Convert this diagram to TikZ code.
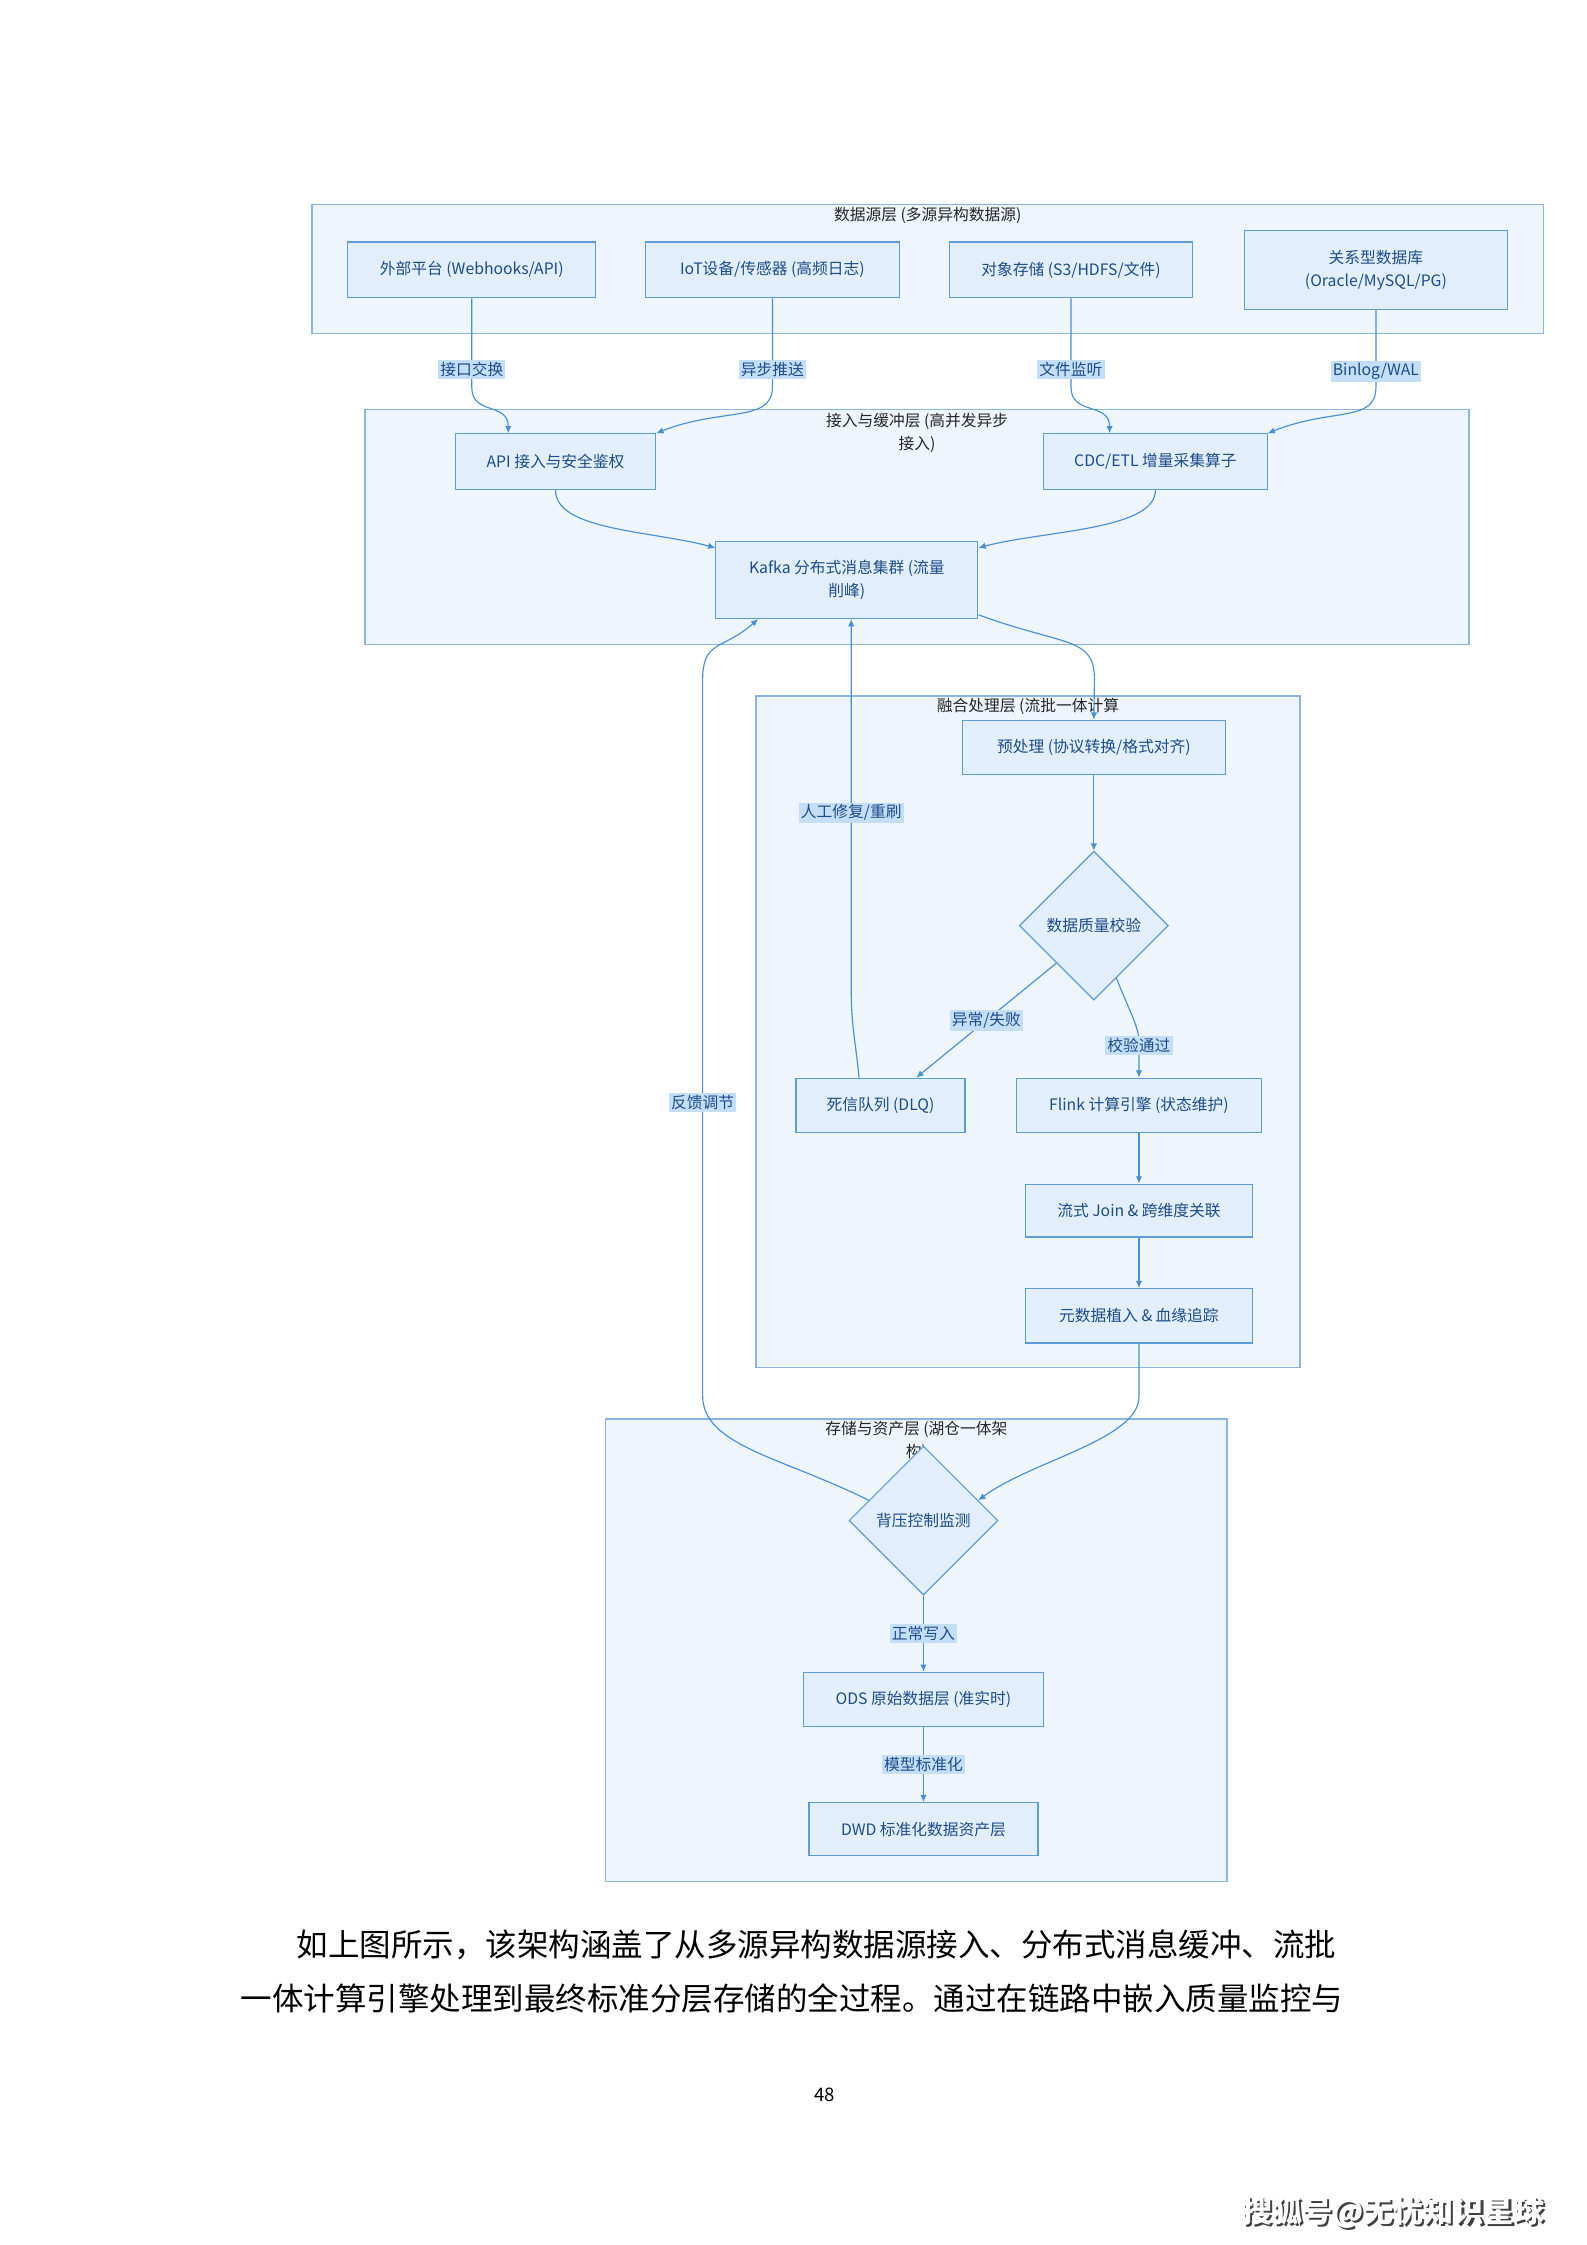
\documentclass[tikz,border=0pt]{standalone}
\usepackage{fontspec}
\setmainfont{Noto Sans CJK SC}
\usetikzlibrary{arrows.meta,positioning,shapes.geometric,calc}
\definecolor{layerline}{HTML}{8DB4E2}
\definecolor{layerfill}{HTML}{EEF5FD}
\definecolor{boxline}{HTML}{5E9BD8}
\definecolor{boxfill}{HTML}{E2EEFB}
\definecolor{boxtext}{HTML}{1E4C8A}
\definecolor{flowline}{HTML}{4A8ED8}
\definecolor{tagfill}{HTML}{C5DEF7}

\begin{document}
\begin{tikzpicture}[x=1pt, y=-1pt,
    layer/.style={draw=layerline, fill=layerfill, line width=1pt, inner sep=0pt},
    layertitle/.style={font=\fontsize{11}{16}\selectfont, text=black!85, align=center, inner sep=1pt, anchor=north},
    box/.style={draw=boxline, fill=boxfill, line width=0.8pt, text=boxtext, align=center, inner sep=2pt, font=\fontsize{11}{16}\selectfont},
    check/.style={box, diamond, minimum width=104pt, minimum height=104pt, inner sep=0pt},
    tag/.style={fill=tagfill, text=boxtext, inner sep=1.5pt, font=\fontsize{11}{13}\selectfont},
    arrow/.style={draw=flowline, line width=0.8pt, -{Latex[length=5pt, width=4.5pt]}},
    para/.style={anchor=west, inner sep=0pt, font=\fontsize{22}{26}\selectfont}
  ]
    \fill[white] (0,0) rectangle (1108,1568);
    \useasboundingbox (0,0) rectangle (1108,1568);

    % layers
    \node[layer, minimum width=860pt, minimum height=90pt] (srclayer) at (648,188) {};
    \node[layer, minimum width=771pt, minimum height=164pt] (inglayer) at (640.5,368) {};
    \node[layer, minimum width=380pt, minimum height=469pt] (fuslayer) at (718,720.5) {};
    \node[layer, minimum width=434pt, minimum height=323pt] (stolayer) at (640,1152.5) {};

    \node[layertitle] (srctitle) at ([yshift=-1pt]srclayer.north) {数据源层 (多源异构数据源)};
    \node[layertitle] (ingtitle) at ([yshift=-2pt]inglayer.north) {接入与缓冲层 (高并发异步\\接入)};
    \node[layertitle] (fustitle) at ([yshift=-1pt]fuslayer.north) {融合处理层 (流批一体计算\\)};
    \node[layertitle] (stotitle) at ([yshift=-1pt]stolayer.north) {存储与资产层 (湖仓一体架\\构)};

    % nodes
    \node[box, minimum width=173pt, minimum height=39pt] (extsrc) at (329.5,188.5) {外部平台 (Webhooks/API)};
    \node[box, minimum width=177pt, minimum height=39pt] (iotsrc) at (539.5,188.5) {IoT设备/传感器 (高频日志)};
    \node[box, minimum width=170pt, minimum height=39pt] (objsrc) at (748,188.5) {对象存储 (S3/HDFS/文件)};
    \node[box, minimum width=184pt, minimum height=55pt] (rdbsrc) at (961,188.5) {关系型数据库\\(Oracle/MySQL/PG)};
    \node[box, minimum width=140pt, minimum height=39pt] (apiin) at (388,322.5) {API 接入与安全鉴权};
    \node[box, minimum width=156pt, minimum height=39pt] (cdcin) at (807,322.5) {CDC/ETL 增量采集算子};
    \node[box, minimum width=183pt, minimum height=54pt] (kafka) at (591.5,405) {Kafka 分布式消息集群 (流量\\削峰)};
    \node[box, minimum width=184pt, minimum height=38pt] (prep) at (764,522) {预处理 (协议转换/格式对齐)};
    \node[check] (dq) at (764,646.5) {数据质量校验};
    \node[box, minimum width=118pt, minimum height=38pt] (dlq) at (615,772) {死信队列 (DLQ)};
    \node[box, minimum width=171pt, minimum height=38pt] (flink) at (795.5,772) {Flink 计算引擎 (状态维护)};
    \node[box, minimum width=159pt, minimum height=37pt] (join) at (795.5,845.5) {流式 Join \& 跨维度关联};
    \node[box, minimum width=159pt, minimum height=38pt] (meta) at (795.5,919) {元数据植入 \& 血缘追踪};
    \node[check] (bp) at (645,1062) {背压控制监测};
    \node[box, minimum width=168pt, minimum height=38pt] (ods) at (645,1187) {ODS 原始数据层 (准实时)};
    \node[box, minimum width=160pt, minimum height=37pt] (dwd) at (645,1277.5) {DWD 标准化数据资产层};

    % connectors
    \draw[arrow] (extsrc.south) -- node[tag, pos=0.8] (tagext) {接口交换} ++(0,62) .. controls +(0,20) and +(0,-22) .. ([xshift=-33pt]apiin.north);
    \draw[arrow] (iotsrc.south) -- node[tag, pos=0.8] (tagiot) {异步推送} ++(0,62) .. controls +(0,25) and +(45,-18) .. (apiin.north east);
    \draw[arrow] (objsrc.south) -- node[tag, pos=0.8] (tagobj) {文件监听} ++(0,62) .. controls +(0,20) and +(0,-22) .. ([xshift=-32pt]cdcin.north);
    \draw[arrow] (rdbsrc.south) -- node[tag, pos=0.8] (tagrdb) {Binlog/WAL} ++(0,54) .. controls +(0,25) and +(45,-18) .. (cdcin.north east);
    \draw[arrow] (apiin.south) .. controls +(0,28) and +(-45,-12) .. ([yshift=-5pt]kafka.north west);
    \draw[arrow] (cdcin.south) .. controls +(0,28) and +(45,-12) .. ([yshift=-5pt]kafka.north east);
    \draw[arrow] ([yshift=3pt]kafka.south east) .. controls +(60,22) and +(0,-30) .. ++(81,45) -- (prep.north);
    \draw[arrow] (prep.south) -- (dq.north);
    \draw[arrow] (dq.south west) -- node[tag] (tagfail) {异常/失败} ([xshift=25pt]dlq.north);
    \draw[arrow] ($(dq.east)!0.7!(dq.south)$) .. controls +(10,25) and +(0,-10) .. ([yshift=25pt]flink.north) -- node[tag, pos=0.1] (tagpass) {校验通过} (flink.north);
    \draw[arrow] ([xshift=-15pt]dlq.north) .. controls +(-3,-30) and +(0,30) .. ++(-5.5,-65) -- node[tag, pos=0.47] (tagfix) {人工修复/重刷} ([xshift=3pt]kafka.south);
    \draw[arrow] (flink.south) -- (join.north);
    \draw[arrow] (join.south) -- (meta.north);
    \draw[arrow] (meta.south) -- ++(0,37) .. controls +(0,30) and +(38,-28) .. ($(bp.north)!0.73!(bp.east)$);
    \draw[arrow] ($(bp.north)!0.73!(bp.west)$) .. controls +(-60,-30) and +(0,35) .. ++(-116,-73) -- node[tag, pos=0.41] (tagfeed) {反馈调节} ++(0,-500) .. controls +(0,-28) and +(-25,22) .. ([xshift=-62pt]kafka.south);
    \draw[arrow] (bp.south) -- node[tag] (tagwrite) {正常写入} (ods.north);
    \draw[arrow] (ods.south) -- node[tag] (tagmodel) {模型标准化} (dwd.north);

    % page text
    \node[para] (para1) at (207,1358) {如上图所示，该架构涵盖了从多源异构数据源接入、分布式消息缓冲、流批};
    \node[para] (para2) at (168,1396) {一体计算引擎处理到最终标准分层存储的全过程。通过在链路中嵌入质量监控与};
    \node[font=\fontsize{13}{15}\selectfont] (pagenum) at (576,1463) {48};
    \node[font=\fontsize{21}{24}\selectfont\bfseries, text=black!75] (sohushadow) at (974.5,1546.5) {搜狐号@无忧知识星球};
    \node[font=\fontsize{21}{24}\selectfont\bfseries, text=white] (sohu) at (973,1545) {搜狐号@无忧知识星球};
  \end{tikzpicture}
\end{document}
